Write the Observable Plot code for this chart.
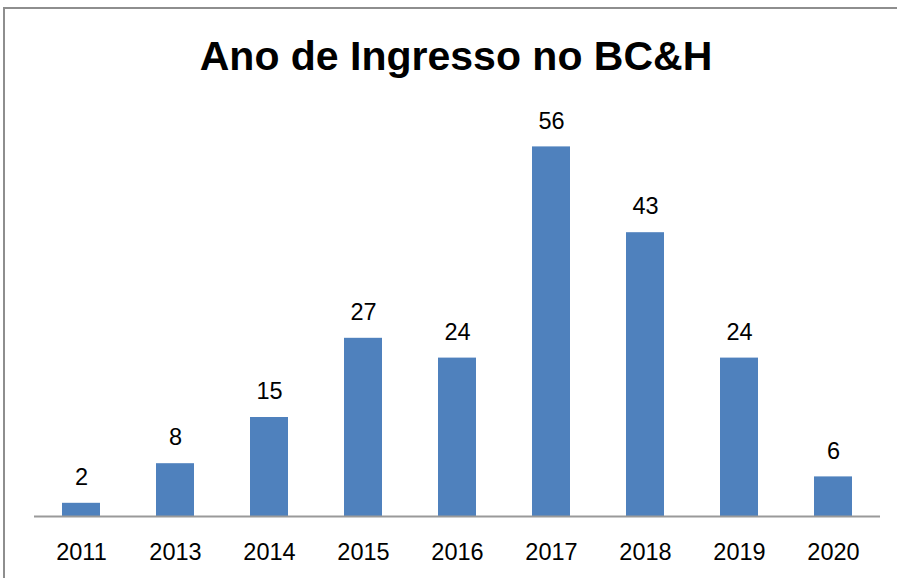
<!DOCTYPE html>
<html>
<head>
<meta charset="utf-8">
<script src="https://cdn.jsdelivr.net/npm/d3@7"></script>
<script src="https://cdn.jsdelivr.net/npm/@observablehq/plot@0.6"></script>
<style>
  html, body { margin: 0; padding: 0; background: #fff; }
  #wrap { position: relative; width: 897px; height: 578px; overflow: hidden; background: #fff; }
  #frame { position: absolute; left: 3px; top: 7px; width: 1000px; height: 1000px; border-left: 2px solid #8e8e8e; border-top: 2px solid #8e8e8e; box-sizing: border-box; }
  #title { position: absolute; left: 0; width: 912px; top: 36px; text-align: center; font: bold 41px "Liberation Sans", Arial, sans-serif; line-height: 41px; color: #000; }
  #chart { position: absolute; left: 0; top: 0; }
</style>
</head>
<body>
<div id="wrap">
  <div id="frame"></div>
  <div id="chart"></div>
  <div id="title">Ano de Ingresso no BC&amp;H</div>
</div>
<script>
const years = ["2011", "2013", "2014", "2015", "2016", "2017", "2018", "2019", "2020"];
const counts = [2, 8, 15, 27, 24, 56, 43, 24, 6];
const data = years.map((y, i) => ({year: y, count: counts[i]}));

const chart = Plot.plot({
  width: 897,
  height: 578,
  marginLeft: 34,
  marginRight: 17,
  marginTop: 120,
  marginBottom: 62,
  style: {background: "transparent", fontFamily: "'Liberation Sans', Arial, sans-serif", color: "#000"},
  x: {domain: years, paddingInner: 0.6, paddingOuter: 0.3, label: null},
  y: {domain: [0, 60], axis: null},
  marks: [
    Plot.barY(data, {x: "year", y: "count", fill: "#4f81bd"}),
    Plot.ruleY([0], {stroke: "#9a9a9a", strokeWidth: 2}),
    Plot.text(data, {x: "year", y: "count", text: d => String(d.count), lineAnchor: "top", dy: -35, fontSize: 23.5, fill: "#000"}),
    Plot.axisX({tickSize: 0, tickPadding: 27, fontSize: 23.5, fill: "#000"})
  ]
});
document.getElementById("chart").appendChild(chart);
</script>
</body>
</html>
